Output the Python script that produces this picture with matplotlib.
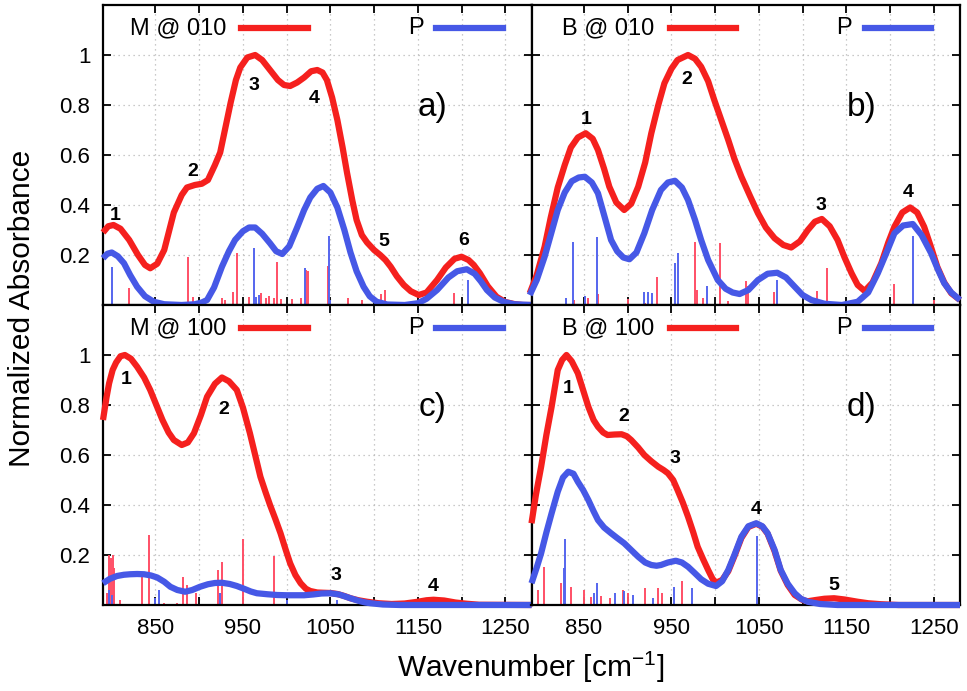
import matplotlib
matplotlib.use("Agg")
import matplotlib.pyplot as plt
from matplotlib.ticker import FixedLocator

plt.rcParams['font.family'] = ['Liberation Sans', 'DejaVu Sans']
plt.rcParams['mathtext.fontset'] = 'custom'
plt.rcParams['mathtext.rm'] = 'Liberation Sans'

RED = '#f5201e'
BLUE = '#4658e6'
RED_STICK = '#ff4f66'
BLUE_STICK = '#5565ee'

# ---- panel a) M @ 010 ----
a_red_x = [790, 796, 802, 810, 820, 830, 838, 844, 852, 860, 871, 880, 886, 895, 903, 910, 918, 924, 930,
           936, 942, 947, 955, 964, 972, 981, 990, 997, 1004, 1012, 1020, 1028, 1035, 1041, 1046, 1052,
           1058, 1064, 1069, 1075, 1080, 1086, 1092, 1100, 1107, 1113, 1119, 1126, 1134, 1142, 1151, 1160,
           1172, 1182, 1192, 1200, 1208, 1214, 1221, 1230, 1240, 1250, 1260, 1270, 1280]
a_red_y = [0.29, 0.315, 0.32, 0.305, 0.26, 0.2, 0.16, 0.147, 0.165, 0.22, 0.37, 0.44, 0.47, 0.48, 0.485,
           0.5, 0.56, 0.61, 0.71, 0.81, 0.9, 0.95, 0.99, 1.0, 0.98, 0.94, 0.9, 0.88, 0.876, 0.89, 0.91,
           0.935, 0.94, 0.93, 0.9, 0.83, 0.74, 0.63, 0.53, 0.42, 0.34, 0.28, 0.25, 0.22, 0.2, 0.18, 0.153,
           0.115, 0.08, 0.055, 0.04, 0.05, 0.1, 0.15, 0.185, 0.193, 0.18, 0.16, 0.127, 0.075, 0.033, 0.012,
           0.004, 0.0, 0.0]
a_blue_x = [790, 795, 800, 807, 814, 821, 829, 838, 848, 860, 880, 895, 903, 909, 917, 926, 934, 941, 950,
            957, 964, 972, 981, 988, 995, 1003, 1012, 1020, 1027, 1035, 1042, 1050, 1058, 1066, 1073, 1080,
            1088, 1095, 1103, 1115, 1135, 1150, 1160, 1172, 1185, 1195, 1206, 1215, 1222, 1229, 1238, 1248,
            1260, 1280]
a_blue_y = [0.187, 0.205, 0.21, 0.195, 0.167, 0.12, 0.073, 0.035, 0.013, 0.003, 0.0, 0.003, 0.01, 0.02,
            0.07, 0.153, 0.215, 0.26, 0.295, 0.31, 0.31, 0.285, 0.247, 0.215, 0.204, 0.235, 0.31, 0.38,
            0.43, 0.465, 0.476, 0.45, 0.39, 0.3, 0.21, 0.135, 0.073, 0.035, 0.013, 0.002, 0.0, 0.007, 0.025,
            0.06, 0.11, 0.135, 0.143, 0.125, 0.095, 0.06, 0.03, 0.013, 0.003, 0.0]
a_red_sticks_x = [820, 879, 887, 893, 898, 905, 926, 930, 939, 943, 957, 971, 976, 980, 986, 989, 993,
                  1006, 1016, 1022, 1024, 1047, 1070, 1086, 1108, 1113, 1191]
a_red_sticks_h = [0.07, 0.012, 0.193, 0.033, 0.01, 0.008, 0.027, 0.02, 0.053, 0.207, 0.033, 0.047, 0.03,
                  0.035, 0.03, 0.173, 0.025, 0.025, 0.03, 0.14, 0.137, 0.156, 0.027, 0.02, 0.044, 0.06, 0.05]
a_blue_sticks_x = [800, 963, 965, 968, 1021, 1049, 1050, 1207]
a_blue_sticks_h = [0.153, 0.227, 0.033, 0.04, 0.147, 0.276, 0.02, 0.1]
a_peak_x = [804, 893, 963, 1032, 1111, 1202]
a_peak_y = [0.36, 0.533, 0.876, 0.827, 0.253, 0.257]

# ---- panel b) B @ 010 ----
b_red_x = [788, 796, 805, 812, 820, 828, 835, 843, 852, 860, 866, 873, 879, 887, 896, 904, 912, 920, 927,
           935, 942, 950, 957, 969, 977, 984, 992, 999, 1007, 1015, 1022, 1030, 1040, 1049, 1058, 1068,
           1078, 1087, 1097, 1106, 1114, 1122, 1131, 1140, 1148, 1156, 1163, 1171, 1180, 1190, 1198, 1205,
           1214, 1223, 1231, 1239, 1247, 1254, 1262, 1270, 1280]
b_red_y = [0.047, 0.12, 0.233, 0.35, 0.47, 0.56, 0.63, 0.67, 0.687, 0.665, 0.62, 0.545, 0.473, 0.41,
           0.38, 0.405, 0.473, 0.57, 0.687, 0.8, 0.887, 0.945, 0.98, 1.0, 0.985, 0.953, 0.895, 0.82, 0.74,
           0.66, 0.585, 0.513, 0.435, 0.367, 0.31, 0.267, 0.24, 0.23, 0.255, 0.3, 0.333, 0.344, 0.315,
           0.26, 0.19, 0.127, 0.08, 0.056, 0.09, 0.167, 0.25, 0.313, 0.37, 0.39, 0.37, 0.313, 0.23, 0.153,
           0.09, 0.047, 0.02]
b_blue_x = [788, 796, 805, 812, 820, 828, 836, 844, 851, 859, 866, 873, 881, 888, 895, 902, 910, 919, 928,
            938, 946, 954, 962, 969, 977, 984, 992, 1003, 1012, 1020, 1028, 1038, 1049, 1060, 1071, 1081,
            1091, 1100, 1110, 1125, 1145, 1163, 1175, 1186, 1196, 1205, 1215, 1226, 1236, 1247, 1255, 1262,
            1270, 1280]
b_blue_y = [0.04, 0.1, 0.193, 0.28, 0.38, 0.45, 0.495, 0.51, 0.513, 0.49, 0.447, 0.36, 0.26, 0.215, 0.19,
            0.183, 0.21, 0.287, 0.38, 0.46, 0.49, 0.497, 0.47, 0.42, 0.34, 0.26, 0.18, 0.1, 0.065, 0.05,
            0.044, 0.06, 0.1, 0.125, 0.129, 0.11, 0.073, 0.04, 0.02, 0.005, 0.0, 0.013, 0.05, 0.127, 0.21,
            0.287, 0.318, 0.324, 0.28, 0.207, 0.14, 0.087, 0.05, 0.02]
b_red_sticks_x = [839, 855, 866, 900, 920, 933, 977, 979, 986, 1006, 1015, 1035, 1038, 1067, 1117, 1128,
                  1204, 1250]
b_red_sticks_h = [0.02, 0.027, 0.044, 0.023, 0.01, 0.113, 0.253, 0.06, 0.027, 0.249, 0.015, 0.096, 0.076,
                  0.051, 0.056, 0.147, 0.083, 0.02]
b_blue_sticks_x = [830, 837, 851, 865, 919, 923, 928, 954, 957, 991, 1071, 1226]
b_blue_sticks_h = [0.029, 0.253, 0.036, 0.271, 0.053, 0.053, 0.05, 0.167, 0.207, 0.076, 0.1, 0.276]
b_peak_x = [853, 968, 1121, 1221]
b_peak_y = [0.74, 0.9, 0.4, 0.45]

# ---- panel c) M @ 100 ----
c_red_x = [790, 794, 797, 801, 805, 810, 815, 822, 829, 837, 844, 851, 858, 865, 871, 880, 887, 894, 902,
           909, 918, 926, 934, 943, 950, 958, 964, 970, 976, 981, 987, 993, 999, 1004, 1010, 1016, 1022,
           1027, 1035, 1042, 1050, 1058, 1066, 1073, 1082, 1092, 1105, 1120, 1135, 1150, 1160, 1168, 1180,
           1193, 1206, 1220, 1280]
c_red_y = [0.74, 0.83, 0.887, 0.94, 0.97, 0.995, 1.0, 0.985, 0.953, 0.91, 0.86, 0.8, 0.74, 0.69, 0.66,
           0.64, 0.65, 0.687, 0.76, 0.833, 0.885, 0.91, 0.895, 0.86, 0.79, 0.687, 0.6, 0.513, 0.45, 0.4,
           0.345, 0.287, 0.22, 0.167, 0.12, 0.087, 0.065, 0.056, 0.05, 0.049, 0.048, 0.044, 0.036, 0.027,
           0.019, 0.013, 0.007, 0.004, 0.006, 0.013, 0.019, 0.021, 0.018, 0.01, 0.005, 0.001, 0.0]
c_blue_x = [790, 798, 806, 814, 821, 829, 837, 845, 852, 860, 867, 875, 884, 892, 901, 910, 918, 926, 935,
            943, 952, 959, 966, 978, 989, 1000, 1010, 1020, 1030, 1040, 1050, 1060, 1067, 1073, 1082, 1090,
            1096, 1110, 1130, 1280]
c_blue_y = [0.087, 0.105, 0.116, 0.121, 0.123, 0.124, 0.123, 0.118, 0.11, 0.093, 0.073, 0.06, 0.053,
            0.06, 0.073, 0.083, 0.088, 0.089, 0.084, 0.076, 0.064, 0.054, 0.047, 0.043, 0.04, 0.039, 0.039,
            0.039, 0.042, 0.046, 0.047, 0.042, 0.034, 0.027, 0.017, 0.01, 0.007, 0.002, 0.0, 0.0]
c_red_sticks_x = [795, 797, 799, 801, 803, 810, 835, 843, 860, 875, 882, 886, 896, 922, 926, 950, 985]
c_red_sticks_h = [0.05, 0.2, 0.19, 0.2, 0.15, 0.02, 0.113, 0.28, 0.01, 0.01, 0.113, 0.08, 0.047, 0.14,
                  0.173, 0.263, 0.196]
c_blue_sticks_x = [797, 800, 850, 854, 924, 1000, 1058]
c_blue_sticks_h = [0.06, 0.04, 0.03, 0.06, 0.047, 0.02, 0.02]
c_peak_x = [817, 928, 1056, 1168]
c_peak_y = [0.9, 0.78, 0.12, 0.073]

# ---- panel d) B @ 100 ----
d_red_x = [790, 795, 801, 807, 813, 820, 825, 830, 836, 843, 849, 855, 861, 866, 872, 877, 885, 893, 899,
           904, 912, 919, 927, 935, 941, 946, 952, 957, 963, 969, 975, 980, 986, 992, 997, 1001, 1008, 1015,
           1022, 1030, 1038, 1047, 1054, 1060, 1068, 1075, 1083, 1091, 1100, 1106, 1115, 1125, 1136, 1148,
           1163, 1175, 1190, 1210, 1280]
d_red_y = [0.327, 0.44, 0.553, 0.68, 0.793, 0.94, 0.98, 1.0, 0.975, 0.927, 0.86, 0.793, 0.74, 0.713,
           0.69, 0.68, 0.682, 0.683, 0.675, 0.66, 0.63, 0.6, 0.575, 0.553, 0.54, 0.527, 0.5, 0.46, 0.41,
           0.353, 0.29, 0.233, 0.185, 0.14, 0.105, 0.089, 0.1, 0.135, 0.195, 0.268, 0.312, 0.325, 0.313,
           0.285, 0.215, 0.137, 0.08, 0.04, 0.02, 0.015, 0.02, 0.025, 0.027, 0.022, 0.013, 0.007, 0.003,
           0.0, 0.0]
d_blue_x = [790, 796, 801, 807, 813, 820, 826, 832, 838, 843, 849, 855, 861, 866, 873, 881, 888, 896, 904,
            912, 920, 927, 933, 938, 946, 955, 962, 969, 976, 984, 992, 1001, 1008, 1015, 1022, 1030, 1038,
            1047, 1054, 1060, 1068, 1075, 1083, 1091, 1098, 1106, 1120, 1140, 1280]
d_blue_y = [0.087, 0.15, 0.207, 0.29, 0.367, 0.453, 0.51, 0.533, 0.525, 0.493, 0.46, 0.42, 0.375, 0.34,
            0.31, 0.287, 0.268, 0.247, 0.22, 0.193, 0.17, 0.16, 0.157, 0.16, 0.17, 0.177, 0.17, 0.153, 0.13,
            0.103, 0.085, 0.076, 0.095, 0.14, 0.2, 0.273, 0.315, 0.327, 0.315, 0.287, 0.22, 0.14, 0.085,
            0.047, 0.025, 0.013, 0.004, 0.0, 0.0]
d_red_sticks_x = [798, 804, 824, 835, 850, 858, 870, 880, 895, 900, 920, 935, 939, 962]
d_red_sticks_h = [0.06, 0.153, 0.087, 0.073, 0.06, 0.033, 0.036, 0.027, 0.06, 0.047, 0.067, 0.067, 0.05,
                  0.097]
d_blue_sticks_x = [827, 828, 861, 865, 885, 896, 906, 929, 953, 973, 1048]
d_blue_sticks_h = [0.147, 0.263, 0.047, 0.087, 0.047, 0.056, 0.04, 0.027, 0.073, 0.067, 0.276]
d_peak_x = [832, 896, 954, 1047, 1136]
d_peak_y = [0.867, 0.753, 0.587, 0.383, 0.08]

panel_names = ['M @ 010', 'B @ 010', 'M @ 100', 'B @ 100']
panel_tags = ['a)', 'b)', 'c)', 'd)']


def draw_panel(ax, rx, ry, bx, by, rsx, rsh, bsx, bsh, px, py, name, tag, xlabels, ylabels):
    ax.vlines(rsx, 0, rsh, color=RED_STICK, lw=1.4, zorder=2)
    ax.vlines(bsx, 0, bsh, color=BLUE_STICK, lw=1.4, zorder=2)
    ax.plot(rx, ry, color=RED, lw=4.5, zorder=3, clip_on=False, solid_joinstyle='round',
            solid_capstyle='butt')
    ax.plot(bx, by, color=BLUE, lw=4.5, zorder=4, clip_on=False, solid_joinstyle='round',
            solid_capstyle='butt')
    for i, (x, y) in enumerate(zip(px, py), 1):
        ax.text(x, y, str(i), fontsize=14, fontweight='bold', ha='center', va='center', zorder=6)

    # gnuplot style key: text then line sample
    ax.text(0.287, 0.923, name, transform=ax.transAxes, ha='right', va='center', fontsize=17)
    ax.plot([0.323, 0.478], [0.923, 0.923], transform=ax.transAxes, color=RED, lw=4.5)
    ax.text(0.748, 0.923, 'P', transform=ax.transAxes, ha='right', va='center', fontsize=17)
    ax.plot([0.778, 0.933], [0.923, 0.923], transform=ax.transAxes, color=BLUE, lw=4.5)
    ax.text(0.77, 0.657, tag, transform=ax.transAxes, ha='center', va='center', fontsize=24)

    ax.set_xlim(790, 1280)
    ax.set_ylim(0, 1.2)
    ax.xaxis.set_major_locator(FixedLocator([850, 950, 1050, 1150, 1250]))
    ax.xaxis.set_minor_locator(FixedLocator([900, 1000, 1100, 1200]))
    ax.yaxis.set_major_locator(FixedLocator([0.2, 0.4, 0.6, 0.8, 1.0]))
    ax.set_yticklabels(['0.2', '0.4', '0.6', '0.8', '1'])
    ax.grid(True, which='both', linestyle=(0, (1, 3)), color='#b8b8b8', lw=0.9)
    ax.tick_params(which='both', direction='in', top=True, right=True, length=6, width=1.3,
                   labelsize=16, pad=9)
    if not xlabels:
        ax.tick_params(labelbottom=False)
    if not ylabels:
        ax.tick_params(labelleft=False)
    for s in ax.spines.values():
        s.set_linewidth(1.6)


fig = plt.figure(figsize=(9.67, 6.91), dpi=100)
W = 428.5 / 967
H = 300 / 691
L1, L2 = 103 / 967, 531.5 / 967
BT, BB = 1 - 305 / 691, 1 - 605 / 691

ax_a = fig.add_axes([L1, BT, W, H])
ax_b = fig.add_axes([L2, BT, W, H])
ax_c = fig.add_axes([L1, BB, W, H])
ax_d = fig.add_axes([L2, BB, W, H])

draw_panel(ax_a, a_red_x, a_red_y, a_blue_x, a_blue_y, a_red_sticks_x, a_red_sticks_h,
           a_blue_sticks_x, a_blue_sticks_h, a_peak_x, a_peak_y, panel_names[0], panel_tags[0], False, True)
draw_panel(ax_b, b_red_x, b_red_y, b_blue_x, b_blue_y, b_red_sticks_x, b_red_sticks_h,
           b_blue_sticks_x, b_blue_sticks_h, b_peak_x, b_peak_y, panel_names[1], panel_tags[1], False, False)
draw_panel(ax_c, c_red_x, c_red_y, c_blue_x, c_blue_y, c_red_sticks_x, c_red_sticks_h,
           c_blue_sticks_x, c_blue_sticks_h, c_peak_x, c_peak_y, panel_names[2], panel_tags[2], True, True)
draw_panel(ax_d, d_red_x, d_red_y, d_blue_x, d_blue_y, d_red_sticks_x, d_red_sticks_h,
           d_blue_sticks_x, d_blue_sticks_h, d_peak_x, d_peak_y, panel_names[3], panel_tags[3], True, False)

fig.text(22 / 967, 1 - 308 / 691, 'Normalized Absorbance', rotation=90, ha='center', va='center',
         fontsize=21.5)
fig.text(531 / 967, 1 - 667 / 691, 'Wavenumber [cm$^{\\mathrm{-1}}$]', ha='center', va='center',
         fontsize=21.5)

fig.savefig('out.png', dpi=100)
